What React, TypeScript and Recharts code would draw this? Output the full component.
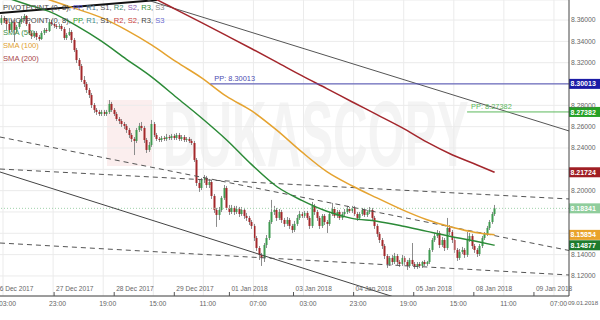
import React from 'react';
import { ComposedChart, Bar, Line, XAxis, YAxis, CartesianGrid, ReferenceLine } from 'recharts';

const FONT = '"Liberation Sans", Arial, sans-serif';

// ---- candle data (hourly) ----
const firstOpen = 8.3572;
const closePx = [
  8.3619, 8.3600, 8.3563, 8.3507, 8.3581, 8.3507, 8.3535, 8.3581, 8.3610, 8.3638,
  8.3563, 8.3479, 8.3450, 8.3479, 8.3441, 8.3422, 8.3479, 8.3507, 8.3497, 8.3581,
  8.3563, 8.3544, 8.3535, 8.3544, 8.3516, 8.3432, 8.3460, 8.3488, 8.3413, 8.3319,
  8.3225, 8.3169, 8.3038, 8.3000, 8.2944, 8.2897, 8.2803, 8.2757, 8.2738, 8.2719,
  8.2738, 8.2719, 8.2738, 8.2813, 8.2757, 8.2719, 8.2672, 8.2653, 8.2625, 8.2607,
  8.2569, 8.2522, 8.2485, 8.2466, 8.2569, 8.2607, 8.2588, 8.2475, 8.2382, 8.2428,
  8.2625, 8.2522, 8.2485, 8.2475, 8.2494, 8.2485, 8.2503, 8.2494, 8.2513, 8.2494,
  8.2522, 8.2485, 8.2503, 8.2475, 8.2485, 8.2466, 8.2447, 8.2288, 8.2072, 8.2025,
  8.2100, 8.2119, 8.2053, 8.2081, 8.1950, 8.1819, 8.1772, 8.1819, 8.1932, 8.2025,
  8.1838, 8.1800, 8.1838, 8.1800, 8.1828, 8.1781, 8.1819, 8.1763, 8.1744, 8.1706,
  8.1669, 8.1556, 8.1462, 8.1397, 8.1369, 8.1490, 8.1556, 8.1706, 8.1800, 8.1819,
  8.1744, 8.1800, 8.1725, 8.1688, 8.1725, 8.1669, 8.1631, 8.1688, 8.1744, 8.1781,
  8.1763, 8.1791, 8.1744, 8.1669, 8.1857, 8.1800, 8.1744, 8.1669, 8.1763, 8.1706,
  8.1688, 8.1781, 8.1828, 8.1763, 8.1800, 8.1744, 8.1781, 8.1800, 8.1828, 8.1810,
  8.1838, 8.1781, 8.1744, 8.1781, 8.1819, 8.1772, 8.1800, 8.1819, 8.1744, 8.1669,
  8.1594, 8.1537, 8.1481, 8.1387, 8.1312, 8.1369, 8.1331, 8.1387, 8.1331, 8.1312,
  8.1369, 8.1331, 8.1294, 8.1350, 8.1312, 8.1284, 8.1312, 8.1294, 8.1331, 8.1312,
  8.1331, 8.1444, 8.1537, 8.1575, 8.1603, 8.1490, 8.1537, 8.1462, 8.1650, 8.1612,
  8.1537, 8.1444, 8.1369, 8.1425, 8.1444, 8.1397, 8.1537, 8.1575, 8.1481, 8.1444,
  8.1406, 8.1481, 8.1556, 8.1594, 8.1650, 8.1706, 8.1781, 8.1834,
];
const highPx = [
  8.3647, 8.3638, 8.3619, 8.3581, 8.3600, 8.3600, 8.3554, 8.3600, 8.3638, 8.3657,
  8.3647, 8.3581, 8.3497, 8.3497, 8.3497, 8.3460, 8.3497, 8.3525, 8.3525, 8.3610,
  8.3600, 8.3572, 8.3563, 8.3563, 8.3563, 8.3535, 8.3479, 8.3525, 8.3507, 8.3432,
  8.3338, 8.3244, 8.3188, 8.3075, 8.3019, 8.2963, 8.2916, 8.2822, 8.2775, 8.2757,
  8.2757, 8.2757, 8.2757, 8.2850, 8.2832, 8.2775, 8.2738, 8.2691, 8.2672, 8.2644,
  8.2625, 8.2588, 8.2541, 8.2503, 8.2588, 8.2635, 8.2644, 8.2607, 8.2494, 8.2456,
  8.2663, 8.2644, 8.2541, 8.2503, 8.2513, 8.2513, 8.2532, 8.2522, 8.2532, 8.2532,
  8.2541, 8.2541, 8.2522, 8.2522, 8.2503, 8.2503, 8.2485, 8.2466, 8.2306, 8.2100,
  8.2119, 8.2147, 8.2138, 8.2110, 8.2100, 8.1969, 8.1838, 8.1847, 8.1950, 8.2053,
  8.2044, 8.1866, 8.1866, 8.1857, 8.1857, 8.1847, 8.1847, 8.1838, 8.1791, 8.1763,
  8.1725, 8.1688, 8.1575, 8.1481, 8.1416, 8.1509, 8.1584, 8.1725, 8.1913, 8.1857,
  8.1838, 8.1828, 8.1819, 8.1744, 8.1753, 8.1744, 8.1688, 8.1716, 8.1772, 8.1810,
  8.1800, 8.1810, 8.1810, 8.1763, 8.1894, 8.1875, 8.1819, 8.1763, 8.1781, 8.1781,
  8.1725, 8.1800, 8.1885, 8.1847, 8.1819, 8.1819, 8.1800, 8.1828, 8.1857, 8.1847,
  8.1857, 8.1857, 8.1800, 8.1800, 8.1838, 8.1838, 8.1819, 8.1847, 8.1838, 8.1763,
  8.1688, 8.1612, 8.1556, 8.1500, 8.1406, 8.1387, 8.1397, 8.1416, 8.1406, 8.1350,
  8.1397, 8.1387, 8.1350, 8.1369, 8.1509, 8.1331, 8.1331, 8.1331, 8.1341, 8.1350,
  8.1341, 8.1462, 8.1556, 8.1603, 8.1631, 8.1622, 8.1566, 8.1556, 8.1744, 8.1678,
  8.1631, 8.1556, 8.1462, 8.1453, 8.1472, 8.1462, 8.1612, 8.1603, 8.1594, 8.1500,
  8.1462, 8.1500, 8.1575, 8.1612, 8.1669, 8.1725, 8.1800, 8.1866,
];
const lowPx = [
  8.3554, 8.3572, 8.3507, 8.3479, 8.3488, 8.3394, 8.3479, 8.3516, 8.3563, 8.3591,
  8.3544, 8.3460, 8.3422, 8.3432, 8.3413, 8.3404, 8.3413, 8.3460, 8.3479, 8.3488,
  8.3544, 8.3525, 8.3516, 8.3516, 8.3497, 8.3413, 8.3413, 8.3450, 8.3385, 8.3300,
  8.3197, 8.3132, 8.3019, 8.2972, 8.2916, 8.2869, 8.2775, 8.2729, 8.2710, 8.2700,
  8.2700, 8.2700, 8.2700, 8.2719, 8.2738, 8.2700, 8.2653, 8.2625, 8.2597, 8.2578,
  8.2541, 8.2494, 8.2456, 8.2334, 8.2447, 8.2550, 8.2560, 8.2447, 8.2353, 8.2363,
  8.2410, 8.2503, 8.2466, 8.2456, 8.2456, 8.2466, 8.2466, 8.2475, 8.2475, 8.2475,
  8.2475, 8.2466, 8.2466, 8.2456, 8.2456, 8.2447, 8.2428, 8.2269, 8.2044, 8.1988,
  8.2006, 8.2072, 8.2025, 8.2025, 8.1922, 8.1791, 8.1660, 8.1725, 8.1800, 8.1913,
  8.1819, 8.1772, 8.1781, 8.1772, 8.1781, 8.1753, 8.1763, 8.1735, 8.1716, 8.1678,
  8.1641, 8.1528, 8.1434, 8.1350, 8.1294, 8.1331, 8.1462, 8.1537, 8.1688, 8.1772,
  8.1716, 8.1725, 8.1697, 8.1660, 8.1669, 8.1641, 8.1603, 8.1612, 8.1669, 8.1725,
  8.1744, 8.1744, 8.1725, 8.1641, 8.1650, 8.1772, 8.1716, 8.1641, 8.1650, 8.1678,
  8.1603, 8.1669, 8.1763, 8.1744, 8.1744, 8.1725, 8.1725, 8.1763, 8.1781, 8.1791,
  8.1791, 8.1763, 8.1716, 8.1725, 8.1763, 8.1753, 8.1753, 8.1781, 8.1725, 8.1641,
  8.1566, 8.1509, 8.1453, 8.1359, 8.1275, 8.1294, 8.1303, 8.1312, 8.1303, 8.1284,
  8.1294, 8.1303, 8.1256, 8.1275, 8.1294, 8.1266, 8.1266, 8.1275, 8.1275, 8.1294,
  8.1294, 8.1312, 8.1425, 8.1519, 8.1556, 8.1462, 8.1472, 8.1434, 8.1444, 8.1584,
  8.1509, 8.1416, 8.1341, 8.1350, 8.1406, 8.1369, 8.1378, 8.1519, 8.1453, 8.1416,
  8.1378, 8.1387, 8.1462, 8.1537, 8.1575, 8.1631, 8.1688, 8.1763,
];

// ---- moving averages (sampled at candle indices) ----
const smaIdx = [0, 10, 20, 30, 40, 50, 60, 70, 80, 90, 100, 110, 120, 130, 140, 150, 160, 170, 180, 190, 197];
const sma50 = [8.3826, 8.3748, 8.3672, 8.3548, 8.3402, 8.3232, 8.3067, 8.2874, 8.2681, 8.2475, 8.2244, 8.2039, 8.1909, 8.1807, 8.1740, 8.1714, 8.1669, 8.1618, 8.1568, 8.1523, 8.14877];
const sma100 = [8.3944, 8.3864, 8.3784, 8.3705, 8.3623, 8.3506, 8.3367, 8.3207, 8.3058, 8.2883, 8.2748, 8.2567, 8.2363, 8.2178, 8.2046, 8.1932, 8.1822, 8.1727, 8.1657, 8.1605, 8.15854];
const sma200 = [8.4491, 8.4369, 8.4257, 8.4144, 8.4041, 8.3929, 8.3816, 8.3696, 8.3576, 8.3454, 8.3331, 8.3205, 8.3078, 8.2957, 8.2834, 8.2713, 8.2591, 8.2455, 8.2337, 8.2241, 8.21724];

// ---- axes ----
const yTicks = [8.12, 8.14, 8.16, 8.18, 8.2, 8.22, 8.24, 8.26, 8.28, 8.3, 8.32, 8.34, 8.36];
const dateTicks = [-2.9, 21.1, 45.1, 69.1, 91.1, 116.7, 140.7, 164.7, 188.7, 212.7];
const dateLabels = ['26 Dec 2017', '27 Dec 2017', '28 Dec 2017', '29 Dec 2017', '01 Jan 2018', '03 Jan 2018', '04 Jan 2018', '05 Jan 2018', '08 Jan 2018', '09 Jan 2018'];
const timeTicks = [2.5, 22.5, 42.5, 62.5, 82.5, 102.5, 122.5, 142.5, 162.5, 182.5, 202.5, 222.5];
const timeLabels = ['03:00', '23:00', '19:00', '15:00', '11:00', '07:00', '03:00', '23:00', '19:00', '15:00', '11:00', '07:00'];
const gridIdx = [0.7, 20.7, 40.7, 60.7, 80.7, 100.7, 120.7, 140.7, 160.7, 180.7, 200.7, 220.7];
const xDomain = [-0.5, 226.7];
const yDomain = [8.1012, 8.3788];

// ---- pivot points ----
const pivotValues = [8.30013, 8.27382];
const pivotFrom = [83.5, 186];
const pivotColors = ['#4b4bb0', '#5cb85c'];

// ---- trend lines (index, price) ----
const trendFromIdx = [-0.5, 58.3, -0.5, -0.5, -0.5, -0.5];
const trendFromPx = [8.3666, 8.3788, 8.2203, 8.2503, 8.2175, 8.1509];
const trendToIdx = [62.3, 226.7, 226.7, 226.7, 226.7, 226.7];
const trendToPx = [8.3788, 8.2560, 8.1922, 8.1439, 8.0482, 8.1209];
const trendStyle = [
  { stroke: '#111', strokeWidth: 2, dash: undefined },
  { stroke: '#555', strokeWidth: 1, dash: undefined },
  { stroke: '#555', strokeWidth: 1, dash: '5 4' },
  { stroke: '#555', strokeWidth: 1, dash: '5 4' },
  { stroke: '#444', strokeWidth: 1, dash: undefined },
  { stroke: '#555', strokeWidth: 1, dash: '5 4' },
];

// ---- right-axis value markers ----
const markerVals = [8.30013, 8.27382, 8.21724, 8.18341, 8.15854, 8.14877];
const markerFill = ['#1c1ca6', '#24a024', '#a01e24', '#8fcd9c', '#e9a32b', '#1e7b2d'];
const lastPrice = 8.18341;

const table: any[] = closePx.map((c, i) => ({
  i,
  open: i === 0 ? firstOpen : closePx[i - 1],
  close: c,
  high: highPx[i],
  low: lowPx[i],
  range: [lowPx[i], highPx[i]],
}));
smaIdx.forEach((k, j) => {
  table[k].sma50 = sma50[j];
  table[k].sma100 = sma100[j];
  table[k].sma200 = sma200[j];
});

const Candle = (props: any) => {
  const { x, y, width, height, payload } = props;
  if (!payload || height == null) return null;
  const { open, close, high, low } = payload;
  const span = high - low || 1e-9;
  const cx = Math.round(x + width / 2);
  const yO = y + ((high - open) / span) * height;
  const yC = y + ((high - close) / span) * height;
  const up = close >= open;
  const top = Math.min(yO, yC);
  const bh = Math.max(1, Math.abs(yO - yC));
  return (
    <g>
      <line x1={cx + 0.5} x2={cx + 0.5} y1={y} y2={y + height} stroke="#8c8c8c" strokeWidth={1} />
      <rect x={cx - 0.5} y={top} width={2} height={bh} fill={up ? '#3f9a50' : '#a3282b'} />
    </g>
  );
};

const XTick = (p: any) => {
  const { x, y, payload } = p;
  const v = payload.value;
  const di = dateTicks.indexOf(v);
  if (di >= 0) {
    return (
      <g>
        <line x1={x} x2={x} y1={y - 4} y2={y} stroke="#555" />
        <text x={x + 2} y={y - 4.6} fontSize={6.6} fill="#666" fontFamily={FONT}>{dateLabels[di]}</text>
      </g>
    );
  }
  const ti = timeTicks.indexOf(v);
  return (
    <text x={x} y={y + 9.6} textAnchor="middle" fontSize={6.8} fill="#666" fontFamily={FONT}>{timeLabels[ti]}</text>
  );
};

const YTick = (p: any) => {
  const { x, y, payload } = p;
  const v = payload.value;
  if (markerVals.some((m) => Math.abs(m - v) < 0.005)) return <g />;
  return (
    <text x={x} y={y} dy="0.35em" fontSize={6.8} fill="#666" fontFamily={FONT}>{v.toFixed(5)}</text>
  );
};

const boxLabel = (fill: string, text: string) => (p: any) => {
  const vb = p.viewBox || {};
  const x = (vb.x || 0) + (vb.width || 0);
  const y = vb.y || 0;
  return (
    <g>
      <rect x={x} y={y - 5} width={31} height={10} fill={fill} />
      <text x={x + 1.5} y={y + 2.6} fill="#fff" fontSize={7} fontWeight="bold" fontFamily={FONT}>{text}</text>
    </g>
  );
};

const pivotLabel = (color: string, text: string) => (p: any) => {
  const vb = p.viewBox || {};
  return (
    <text x={(vb.x || 0) + 4} y={(vb.y || 0) - 3} fill={color} fontSize={7.4} fontFamily={FONT}>{text}</text>
  );
};

const legendLine1: [string, string][] = [
  ['PIVOTPOINT (0, 8), ', '#444'], ['PP', '#5a5ad0'], [', ', '#444'], ['R1', '#3d6e8c'], [', ', '#444'],
  ['S1', '#555'], [', ', '#444'], ['R2', '#3a8d6d'], [', ', '#444'], ['S2', '#8a5cb0'], [', ', '#444'],
  ['R3', '#2f8f3a'], [', ', '#444'], ['S3', '#888'],
];
const legendLine2: [string, string][] = [
  ['PIVOTPOINT (0, 8), ', '#444'], ['PP', '#2f9a2f'], [', ', '#444'], ['R1', '#3a8a8a'], [', ', '#444'],
  ['S1', '#444'], [', ', '#444'], ['R2', '#c83c3c'], [', ', '#444'], ['S2', '#c83c3c'], [', ', '#444'],
  ['R3', '#444'], [', ', '#444'], ['S3', '#6a6ad0'],
];
const smaLegend: [string, string][] = [['SMA (50)', '#3a8f45'], ['SMA (100)', '#e0a030'], ['SMA (200)', '#a8484c']];

export default function App() {
  return (
    <div style={{ position: 'fixed', left: 0, top: 0, width: 600, height: 320, background: '#fff', overflow: 'hidden', fontFamily: FONT }}>
      {/* watermark */}
      <div style={{ position: 'absolute', left: 107, top: 100, width: 45, height: 66, background: '#fbeeee' }} />
      <div style={{ position: 'absolute', left: 163, top: 88, fontSize: 92, fontWeight: 'bold', color: '#f4f4f4', transform: 'scaleX(0.52)', transformOrigin: 'left top', whiteSpace: 'nowrap', lineHeight: '92px' }}>DUKASCOPY</div>
      <div style={{ position: 'absolute', left: 0, top: 0 }}>
        <ComposedChart width={600} height={320} data={table} margin={{ top: 0, right: 0, bottom: 0, left: 0 }}>
          <CartesianGrid vertical={false} stroke="#ebebeb" />
          <XAxis
            dataKey="i"
            type="number"
            domain={xDomain}
            allowDataOverflow
            ticks={[...dateTicks, ...timeTicks]}
            interval={0}
            tick={<XTick />}
            tickLine={false}
            tickSize={0}
            tickMargin={0}
            height={24}
            axisLine={{ stroke: '#444' }}
          />
          <YAxis
            orientation="right"
            type="number"
            domain={yDomain}
            allowDataOverflow
            ticks={yTicks}
            interval={0}
            width={31}
            tickSize={0}
            tickMargin={2}
            tickLine={false}
            tick={<YTick />}
            axisLine={{ stroke: '#444' }}
          />
          {gridIdx.map((g) => (
            <ReferenceLine key={'g' + g} x={g} stroke="#ebebeb" />
          ))}
          <ReferenceLine y={lastPrice} stroke="#9fd2aa" strokeDasharray="1 2" />
          {trendFromIdx.map((x1, k) => (
            <ReferenceLine
              key={'t' + k}
              ifOverflow="hidden"
              segment={[{ x: x1, y: trendFromPx[k] }, { x: trendToIdx[k], y: trendToPx[k] }]}
              stroke={trendStyle[k].stroke}
              strokeWidth={trendStyle[k].strokeWidth}
              strokeDasharray={trendStyle[k].dash}
            />
          ))}
          <Bar dataKey="range" barSize={2} shape={<Candle />} isAnimationActive={false} />
          <Line dataKey="sma200" type="monotone" stroke="#a3262c" strokeWidth={1.5} dot={false} connectNulls isAnimationActive={false} />
          <Line dataKey="sma100" type="monotone" stroke="#e5a330" strokeWidth={1.5} dot={false} connectNulls isAnimationActive={false} />
          <Line dataKey="sma50" type="monotone" stroke="#2b8a37" strokeWidth={1.5} dot={false} connectNulls isAnimationActive={false} />
          {pivotValues.map((v, k) => (
            <ReferenceLine
              key={'p' + k}
              segment={[{ x: pivotFrom[k], y: v }, { x: xDomain[1], y: v }]}
              stroke={pivotColors[k]}
              strokeWidth={1}
              label={pivotLabel(pivotColors[k], 'PP: ' + v.toFixed(5))}
            />
          ))}
          {markerVals.map((v, k) => (
            <ReferenceLine
              key={'m' + k}
              y={v}
              stroke="none"
              strokeOpacity={0}
              label={boxLabel(markerFill[k], v.toFixed(5))}
            />
          ))}
        </ComposedChart>
      </div>
      {/* legend */}
      <div style={{ position: 'absolute', left: 3, top: 3, fontSize: 7.6, lineHeight: '10px', whiteSpace: 'nowrap' }}>
        {legendLine1.map(([t, c], k) => <span key={k} style={{ color: c }}>{t}</span>)}
      </div>
      <div style={{ position: 'absolute', left: 3, top: 16, fontSize: 7.6, lineHeight: '10px', whiteSpace: 'nowrap' }}>
        {legendLine2.map(([t, c], k) => <span key={k} style={{ color: c }}>{t}</span>)}
      </div>
      {smaLegend.map(([t, c], k) => (
        <div key={t} style={{ position: 'absolute', left: 3, top: 28 + k * 13, fontSize: 7.6, lineHeight: '10px', color: c, whiteSpace: 'nowrap' }}>{t}</div>
      ))}
      <div style={{ position: 'absolute', left: 568, top: 299, fontSize: 6.2, color: '#666', whiteSpace: 'nowrap', letterSpacing: '-0.1px' }}>09.01.2018</div>
    </div>
  );
}
